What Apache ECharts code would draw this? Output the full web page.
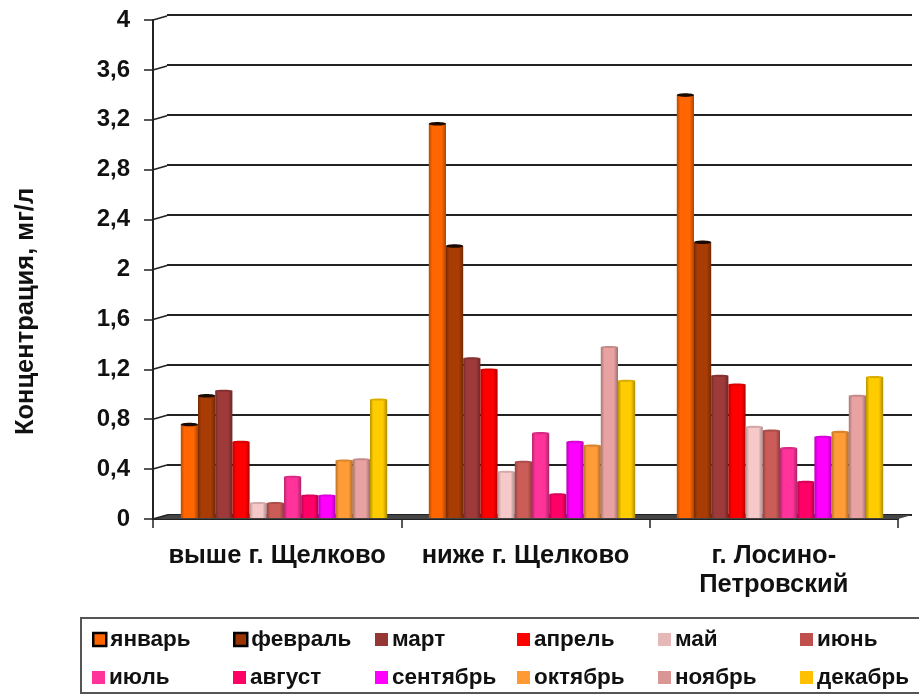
<!DOCTYPE html>
<html><head><meta charset="utf-8">
<style>html,body{margin:0;padding:0;background:#fff}#c{width:919px;height:695px}</style>
<script src="https://cdn.jsdelivr.net/npm/echarts@6/dist/echarts.min.js"></script></head>
<body><div id="c"></div>
<script>
const categories = ['выше г. Щелково','ниже г. Щелково','г. Лосино-\nПетровский'];
const months = ['январь','февраль','март','апрель','май','июнь','июль','август','сентябрь','октябрь','ноябрь','декабрь'];
const january  = [0.75,3.16,3.39];
const february = [0.98,2.18,2.21];
const march    = [1.02,1.28,1.14];
const april    = [0.61,1.19,1.07];
const may      = [0.12,0.37,0.73];
const june     = [0.12,0.45,0.70];
const july     = [0.33,0.68,0.56];
const august   = [0.18,0.19,0.29];
const september= [0.18,0.61,0.65];
const october  = [0.46,0.58,0.69];
const november = [0.47,1.37,0.98];
const december = [0.95,1.10,1.13];
const tickValues = [0,0.4,0.8,1.2,1.6,2,2.4,2.8,3.2,3.6,4];
const tickLabels = ['0','0,4','0,8','1,2','1,6','2','2,4','2,8','3,2','3,6','4'];
const colors = ['#FF6600','#993300','#953735','#FF0000','#E6B8B7','#C0504D','#FF3399','#FF0066','#FF00FF','#FF9933','#D99694','#FFC000'];
const barColors = ['#FF6600','#A83C04','#9E3A3A','#FF0000','#F7C8C8','#CC5C58','#FF3399','#FF0066','#FF00FF','#FF9C38','#E8A2A2','#FFCC00'];
const allValues = [january,february,march,april,may,june,july,august,september,october,november,december];

const FONT = '"Liberation Sans", Arial, sans-serif';
const barW = 17.2, depthX = 14, depthY = 4;

function shade(hex, f){
  const n = parseInt(hex.slice(1),16);
  const c = [n>>16&255,n>>8&255,n&255].map(v=>Math.round(v*f));
  return `rgb(${c[0]},${c[1]},${c[2]})`;
}
const grad = hex => ({type:'linear',x:0,y:0,x2:1,y2:0,colorStops:[
  {offset:0,color:shade(hex,.72)},{offset:.2,color:hex},{offset:.75,color:hex},{offset:1,color:shade(hex,.68)}]});

const barSeries = months.map((m,i)=>({
  name:m,type:'bar',xAxisIndex:2,yAxisIndex:2,barWidth:barW,barGap:0,
  data:allValues[i],itemStyle:{color:grad(barColors[i])},emphasis:{disabled:true},z:5,
  silent:true
}));

// caps of the cylinders
const capData=[];
months.forEach((m,i)=>allValues[i].forEach((v,c)=>capData.push([c,v,i])));
const capSeries={
  type:'custom',xAxisIndex:2,yAxisIndex:2,z:6,silent:true,data:capData,encode:{x:0,y:1},
  renderItem(p,api){
    const pt=api.coord([api.value(0),api.value(1)]);
    const i=api.value(2);
    const cx=pt[0]+(i-5.5)*barW;
    const dark=i<2;
    return {type:'ellipse',shape:{cx,cy:pt[1],rx:barW/2,ry:dark?1.8:1.1},
      style:{fill:dark?'#1a0a00':shade(barColors[i],.85)}};
  }
};
// oblique connectors from each axis tick to the back wall
const connSeries={
  type:'custom',xAxisIndex:0,yAxisIndex:0,z:3,silent:true,
  data:tickValues.map(v=>[0,v]),encode:{y:1},clip:false,
  renderItem(p,api){
    const pt=api.coord([0,api.value(1)]);
    const x0=p.coordSys.x;
    return {type:'line',shape:{x1:x0,y1:pt[1],x2:x0+depthX,y2:pt[1]-depthY},style:{stroke:'#222',lineWidth:1.6}};
  }
};
const floorSeries={
  type:'custom',xAxisIndex:0,yAxisIndex:0,z:2,silent:true,data:[[0,0]],encode:{y:1},clip:false,
  renderItem(p,api){
    const pt=api.coord([0,0]);
    const x0=p.coordSys.x,w=p.coordSys.width;
    return {type:'polygon',shape:{points:[[x0,pt[1]],[x0+depthX,pt[1]-depthY],[x0+w+depthX,pt[1]-depthY],[x0+w,pt[1]]]},
      style:{fill:'#444'}};
  }
};

const legends = months.map((m,i)=>{
  const col=i%6,row=Math.floor(i/6);
  const xs=[92,233,375,517,658,800];
  return {data:[m],left:xs[col],top:row?666:628,itemWidth:13,itemHeight:13,itemGap:0,padding:0,
    icon:'rect',selectedMode:false,
    textStyle:{fontFamily:FONT,fontWeight:'bold',fontSize:22.5,color:'#111',padding:[0,0,0,-1]},
    itemStyle:{color:colors[i],borderColor:i<2?'#000':'transparent',borderWidth:i<2?2.5:0}};
});

const chart=echarts.init(document.getElementById('c'),null,{renderer:'canvas'});
chart.setOption({
  animation:false,backgroundColor:'#fff',
  legend:legends,
  graphic:[{type:'rect',shape:{x:81,y:618,width:845,height:75},style:{fill:'#fff',stroke:'#555',lineWidth:2},z:-1}],
  grid:[
    {left:153,top:20,width:745,height:499,containLabel:false},
    {left:167,top:15,width:745,height:500},
    {left:160,top:19,width:744,height:499}
  ],
  xAxis:[
    {type:'category',gridIndex:0,data:categories,
      axisLine:{show:true,lineStyle:{color:'#222',width:2}},
      axisTick:{show:true,alignWithLabel:false,length:9,lineStyle:{color:'#222',width:1.5}},
      axisLabel:{interval:0,fontFamily:FONT,fontWeight:'bold',fontSize:25.5,color:'#111',margin:22,lineHeight:29}},
    {type:'category',gridIndex:1,data:categories,show:false},
    {type:'category',gridIndex:2,data:categories,show:false}
  ],
  yAxis:[
    {type:'value',gridIndex:0,min:0,max:4,interval:0.4,name:'Концентрация, мг/л',nameLocation:'middle',nameGap:114,
      nameTextStyle:{fontFamily:FONT,fontWeight:'bold',fontSize:25.5,color:'#111',padding:[0,84,0,0]},
      axisLine:{show:true,lineStyle:{color:'#222',width:2}},
      axisTick:{show:true,length:9,lineStyle:{color:'#222',width:1.5}},
      axisLabel:{fontFamily:FONT,fontWeight:'bold',fontSize:24,color:'#111',margin:23,
        formatter:v=>tickLabels[tickValues.findIndex(t=>Math.abs(t-v)<1e-6)]},
      splitLine:{show:false}},
    {type:'value',gridIndex:1,min:0,max:4,interval:0.4,axisLine:{show:false},axisTick:{show:false},axisLabel:{show:false},
      splitLine:{show:true,lineStyle:{color:'#222',width:2}}},
    {type:'value',gridIndex:2,min:0,max:4,interval:0.4,show:false,splitLine:{show:false}}
  ],
  series:[floorSeries,connSeries,...barSeries,capSeries]
});
</script></body></html>
